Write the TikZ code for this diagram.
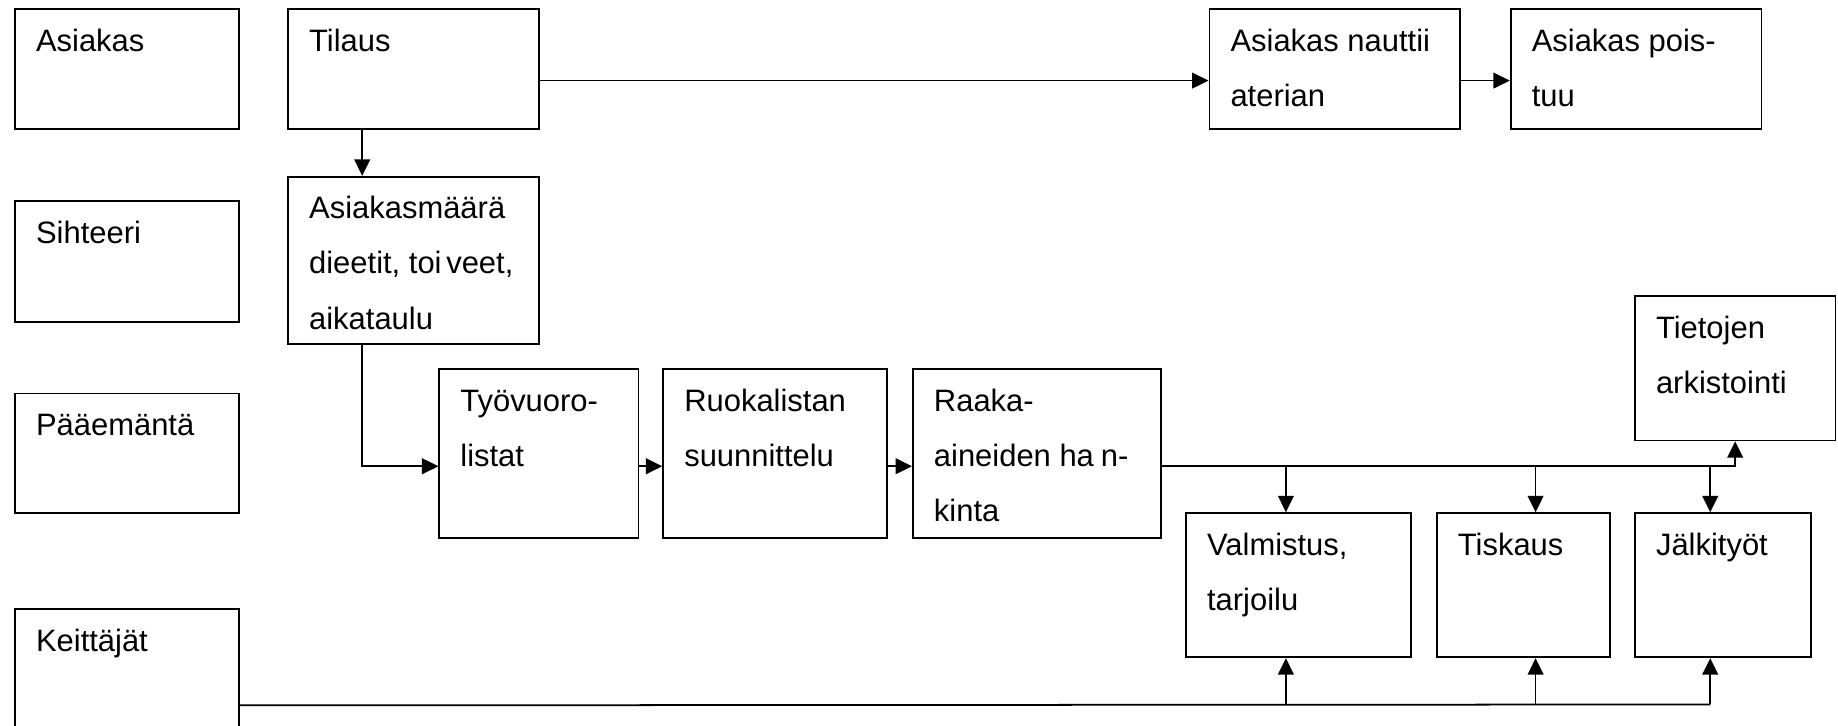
\documentclass[tikz,border=0pt]{standalone}
\usepackage{fontspec}
\setmainfont{Liberation Sans}
\usetikzlibrary{arrows.meta, calc}

% box text: width, height, lines
\newcommand{\boxtxt}[3]{\parbox[c][#2][t]{#1}{\raggedright\leftskip=9pt\rule{0pt}{18pt}#3}}

\begin{document}
\begin{tikzpicture}[x=0.5pt, y=-0.5pt, line width=0.75pt,
    font=\fontsize{13.2pt}{23.5pt}\selectfont,
    box/.style={draw, anchor=north west, inner sep=0pt},
    arr/.style={-{Triangle[length=7pt, width=6.7pt]}}]

        \path[use as bounding box, clip] (0,0) rectangle (1568,619);

        % Roles
        \node[box] (asiakas) at (12,7) {\boxtxt{95.5pt}{51pt}{Asiakas}};
        \node[box] (sihteeri) at (12,171) {\boxtxt{95.5pt}{51.5pt}{Sihteeri}};
        \node[box] (paaemanta) at (12,335) {\boxtxt{95.5pt}{51pt}{Pääemäntä}};
        \node[box] (keittajat) at (12,519) {\boxtxt{95.5pt}{82pt}{Keittäjät}};

        % Tasks
        \node[box] (tilaus) at (245,7) {\boxtxt{107pt}{51pt}{Tilaus}};
        \node[box] (maara) at (245,150) {\boxtxt{107pt}{71.5pt}{Asiakasmäärä\\dieetit, toi\kern2pt veet,\\aikataulu}};
        \node[box] (nauttii) at (1031,7) {\boxtxt{107pt}{51pt}{Asiakas nauttii\\aterian}};
        \node[box] (poistuu) at (1288,7) {\boxtxt{107pt}{51pt}{Asiakas pois-\\tuu}};
        \node[box] (tyovuoro) at (374,314) {\boxtxt{85pt}{72pt}{Työvuoro-\\listat}};
        \node[box] (ruoka) at (565,314) {\boxtxt{95.5pt}{72pt}{Ruokalistan\\suunnittelu}};
        \node[box] (raaka) at (778,314) {\boxtxt{106pt}{72pt}{Raaka-\\aineiden ha\kern3pt n-\\kinta}};
        \node[box] (arkisto) at (1394,252) {\boxtxt{85.5pt}{61.5pt}{Tietojen\\arkistointi}};
        \node[box] (valmistus) at (1011,437) {\boxtxt{96pt}{61.5pt}{Valmistus,\\tarjoilu}};
        \node[box] (tiskaus) at (1225,437) {\boxtxt{74pt}{61.5pt}{Tiskaus}};
        \node[box] (jalki) at (1394,437) {\boxtxt{75pt}{61.5pt}{Jälkityöt}};

        % Flow
        \draw[arr] ([xshift=32pt]tilaus.south west) -- ([xshift=32pt]maara.north west);
        \draw[arr] ([yshift=-5pt]tilaus.east) -- ([yshift=-5pt]nauttii.west);
        \draw[arr] ([yshift=-5pt]nauttii.east) -- ([yshift=-5pt]poistuu.west);
        \draw[arr] ([xshift=32pt]maara.south west) |- ([yshift=-5.5pt]tyovuoro.west);
        \draw[arr] ([yshift=-5.5pt]tyovuoro.east) -- ([yshift=-5.5pt]ruoka.west);
        \draw[arr] ([yshift=-5.5pt]ruoka.east) -- ([yshift=-5.5pt]raaka.west);
        \draw[arr] ([yshift=-5.5pt]raaka.east) -| (arkisto.south);

        % Branches down
        \coordinate (b1) at (1097,397);
        \coordinate (b2) at (1310,397);
        \coordinate (b3) at (1459,397);
        \draw[arr] (b1) -- (b1 |- valmistus.north);
        \draw[arr] (b2) -- (b2 |- tiskaus.north);
        \draw[arr] (b3) -- (b3 |- jalki.north);

        % Cooks line
        \coordinate (k1) at (1097,601);
        \coordinate (k2) at (1310,601);
        \coordinate (k3) at (1459,601);
        \draw (keittajat.east) -- (k3);
        \draw[arr] (k1) -- (k1 |- valmistus.south);
        \draw[arr] (k2) -- (k2 |- tiskaus.south);
        \draw[arr] (k3) -- (k3 |- jalki.south);

\end{tikzpicture}
\end{document}
